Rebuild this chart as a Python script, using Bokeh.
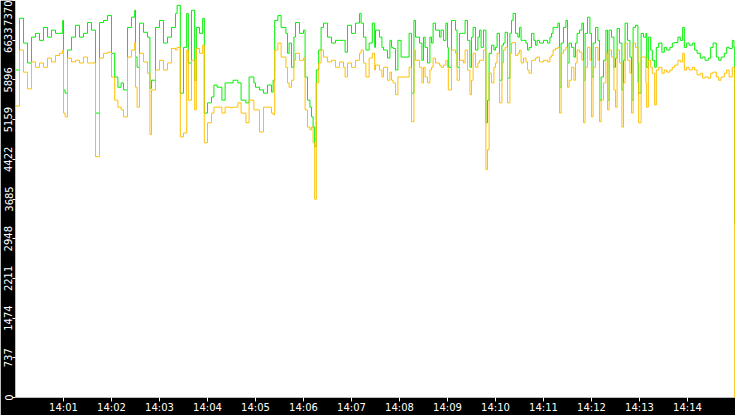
import pandas as pd
from bokeh.plotting import figure
from bokeh.models import FixedTicker, DatetimeTickFormatter, Range1d
from bokeh.embed import file_html
from bokeh.resources import INLINE

# seconds after 14:00:00, upper (green) series, lower (orange) series
t1 = [0, 5, 10, 15, 20, 25, 30, 35, 40, 45, 50, 55, 59, 60, 62, 65, 70, 75, 80, 85,
      90, 95, 100, 105, 110, 115, 120, 124, 128, 132, 135, 140, 145, 149]
g1 = [6080, 7040, 6580, 6210, 6690, 6760, 6630, 6870, 6690, 6820, 6760, 6760, 7000, 5710, 5650, 6450, 6690, 6910, 6690, 6760,
      6960, 6820, 5280, 6960, 7000, 7090, 6390, 5950, 5760, 5840, 5710, 6870, 7060, 7190]
o1 = [5410, 6450, 6040, 5730, 6230, 6130, 6210, 6130, 6300, 6230, 6350, 6390, 6450, 5280, 5210, 6300, 6230, 6260, 6210, 6320,
      6210, 6210, 4470, 6300, 6390, 6410, 5950, 5520, 5390, 5340, 5210, 6320, 6450, 6590]

t2 = [150, 152, 155, 160, 165, 168, 170, 175, 180, 185, 190, 195, 200, 202, 206, 210, 214, 216, 220, 224,
      226, 230, 234, 236, 240, 245, 248, 252, 258, 262, 268, 272, 278, 282, 288, 292, 298]
g2 = [6320, 6130, 6950, 6780, 6690, 5740, 5890, 6870, 7000, 6580, 6690, 6870, 7130, 7280, 5650, 6500, 7130, 6210, 7190, 5890,
      6870, 6760, 7040, 5280, 5470, 5580, 5800, 5760, 5520, 5840, 5840, 5890, 5840, 5520, 5470, 5950, 5840]
o2 = [5760, 5390, 6390, 6230, 6020, 4880, 5710, 6080, 6260, 6080, 6210, 6480, 6450, 6500, 4840, 4910, 6450, 5520, 6260, 5340,
      6480, 6390, 6540, 4730, 5100, 5280, 5390, 5390, 5280, 5390, 5380, 5390, 5470, 5280, 5100, 5520, 5340]

t3 = [300, 305, 310, 315, 320, 322, 324, 328, 332, 338, 340, 342, 345, 348, 350, 355, 360, 362, 365, 368,
      370, 372, 374, 376, 379, 382, 385, 390, 395, 400, 405, 410, 412, 415, 420, 425, 430, 432, 435, 438,
      442, 446, 449]
g3 = [5760, 5710, 5650, 5800, 5670, 5890, 7000, 7090, 6870, 6760, 6390, 6580, 6130, 6690, 6960, 6760, 6820, 5950, 5520, 5390,
      5210, 5020, 4660, 6080, 6450, 6870, 6950, 6690, 6580, 6630, 6630, 6630, 6410, 6910, 6760, 6950, 7130, 6950, 6690, 6450,
      6580, 6950, 6500]
o3 = [5340, 4930, 5390, 5390, 5280, 5250, 6450, 6580, 6320, 6130, 5840, 5760, 5890, 6260, 6390, 6260, 6300, 5340, 5020, 4970,
      5020, 4730, 3680, 5840, 6210, 6450, 6320, 6230, 6260, 6130, 6230, 6130, 5950, 6210, 6130, 6260, 6390, 6450, 6210, 5950,
      6300, 6390, 6080]

t4 = [450, 455, 458, 460, 465, 468, 470, 472, 475, 478, 482, 488, 492, 495, 498, 500, 505, 508, 510, 512,
      515, 518, 520, 522, 525, 530, 532, 535, 538, 540, 541, 545, 550, 552, 555, 560, 562, 565, 568, 570,
      572, 575, 578, 580, 582, 585, 588, 590, 592, 595, 598]
g4 = [6820, 6690, 6500, 6450, 6300, 6630, 6500, 6480, 6080, 6630, 6320, 6320, 6760, 5650, 7000, 6690, 6580, 6260, 6690, 6500,
      6210, 6690, 6580, 6950, 6820, 6690, 6820, 6630, 6950, 6500, 6130, 7000, 6820, 6130, 6760, 6760, 7000, 6630, 6130, 6690,
      6870, 6450, 6690, 6820, 6500, 6820, 5100, 5520, 6390, 6540, 6450]
o4 = [6170, 6080, 5950, 6130, 5890, 6040, 5890, 5840, 5620, 5950, 5950, 5950, 6130, 5120, 6450, 6260, 6130, 5840, 6130, 5950,
      5840, 6080, 6130, 6300, 6210, 6170, 6130, 6170, 6260, 6130, 5710, 6450, 6390, 5890, 6260, 6210, 6450, 6080, 5620, 5890,
      6390, 6130, 6210, 6260, 6260, 6450, 4230, 4600, 6020, 5840, 6130]

t5 = [600, 602, 605, 608, 610, 612, 615, 618, 620, 622, 625, 628, 630, 632, 635, 638, 640, 642, 645, 648,
      650, 652, 655, 660, 665, 668, 670, 672, 675, 678, 680, 682, 685, 688, 690, 692, 695, 698, 700, 702,
      705, 708, 710, 712, 715, 718, 720, 722, 725, 728, 730, 732, 735, 738, 740, 742, 745, 748]
g5 = [6500, 6760, 5890, 6540, 6580, 6780, 5930, 6760, 7000, 7130, 6760, 6690, 6870, 6630, 6630, 6580, 6450, 6500, 6760, 6630,
      6540, 6630, 6580, 6630, 6580, 6690, 6760, 6870, 6870, 6950, 5760, 6580, 6870, 7000, 6210, 6580, 6500, 6320, 6580, 6760,
      6820, 6950, 5890, 6760, 7060, 6760, 5950, 6580, 6870, 6630, 5520, 5950, 6260, 6820, 5520, 6820, 6690, 6130]
o5 = [6210, 6390, 5470, 6210, 6450, 6500, 5470, 6390, 6580, 6590, 6350, 6390, 6450, 6210, 6300, 6230, 6080, 6020, 6260, 6260,
      6300, 6320, 6230, 6260, 6230, 6320, 6350, 6450, 6480, 6500, 5280, 6390, 6450, 6500, 5760, 5890, 6130, 5890, 6210, 6450,
      6410, 6260, 5100, 6130, 6500, 6260, 5210, 6130, 6500, 6260, 5120, 5520, 5840, 6390, 5340, 6450, 6320, 5710]

t6 = [750, 752, 755, 758, 760, 762, 765, 768, 770, 772, 775, 778, 779, 782, 785, 788, 789, 791, 794, 796,
      799, 801, 804, 808, 811, 814, 818, 821, 824, 828, 831, 834, 836, 839, 842, 846, 849, 852, 856, 859,
      862, 866, 869, 872, 876, 879, 882, 886, 889, 892, 896, 898, 899, 900]
g6 = [6300, 6850, 6580, 5710, 6260, 6950, 6630, 6320, 5520, 6870, 6910, 6210, 5650, 6760, 6690, 6760, 6130, 6690, 6450, 6260,
      6130, 6500, 6580, 6410, 6500, 6450, 6500, 6580, 6590, 6690, 6630, 6870, 6500, 6580, 6540, 6580, 6450, 6390, 6300, 6320,
      6260, 6300, 6500, 6580, 6320, 6260, 6320, 6390, 6500, 6480, 6630, 6500, 3210, 3210]
o6 = [5390, 6450, 6210, 5020, 5840, 6580, 6260, 6020, 5280, 6580, 6500, 5840, 5100, 6320, 6320, 5840, 5390, 6260, 6130, 6020,
      5430, 6080, 6130, 6020, 6080, 6040, 6080, 6130, 6170, 6260, 6230, 6390, 6080, 6130, 6080, 6130, 6080, 5990, 6020, 5930,
      5950, 5930, 6020, 6040, 5950, 5890, 5950, 6020, 6080, 5950, 6130, 6130, 0, 0]

y_ticks = [0, 737, 1474, 2211, 2948, 3685, 4422, 5159, 5896, 6633, 7370]
x_tick_minutes = list(range(1, 15))

start = pd.Timestamp("2024-01-01 14:00:00")
secs = t1 + t2 + t3 + t4 + t5 + t6
green = g1 + g2 + g3 + g4 + g5 + g6
orange = o1 + o2 + o3 + o4 + o5 + o6
times = start + pd.to_timedelta(secs, unit="s")

p = figure(width=735, height=415, x_axis_type="datetime", output_backend="svg",
           toolbar_location=None,
           x_range=Range1d(start, start + pd.Timedelta(minutes=15)),
           y_range=Range1d(0, 7370))
p.min_border_left = 15
p.min_border_bottom = 16
p.min_border_top = 0
p.min_border_right = 0
p.background_fill_color = "white"
p.border_fill_color = "black"
p.outline_line_color = None
p.grid.visible = False

p.step(times, green, mode="after", line_color="#00F000", line_width=1)
p.step(times, orange, mode="after", line_color="#FFC000", line_width=1)

tick_ms = [(start + pd.Timedelta(minutes=m)).value // 10**6 for m in x_tick_minutes]
p.xaxis.ticker = FixedTicker(ticks=tick_ms)
p.xaxis.formatter = DatetimeTickFormatter(minutes="%H:%M", hours="%H:%M", minsec="%H:%M")
p.yaxis.ticker = FixedTicker(ticks=y_ticks)
p.yaxis.major_label_orientation = "vertical"

for ax in (p.xaxis[0], p.yaxis[0]):
    ax.axis_line_color = None
    ax.major_tick_line_color = "white"
    ax.minor_tick_line_color = None
    ax.major_tick_in = 0
    ax.major_label_text_color = "white"
    ax.major_label_text_font = "DejaVu Sans"
    ax.major_label_text_font_size = "10px"
    ax.major_label_standoff = 0
p.xaxis.major_tick_out = 4
p.yaxis.major_tick_out = 3

open("out.html", "w").write(file_html(p, INLINE))
